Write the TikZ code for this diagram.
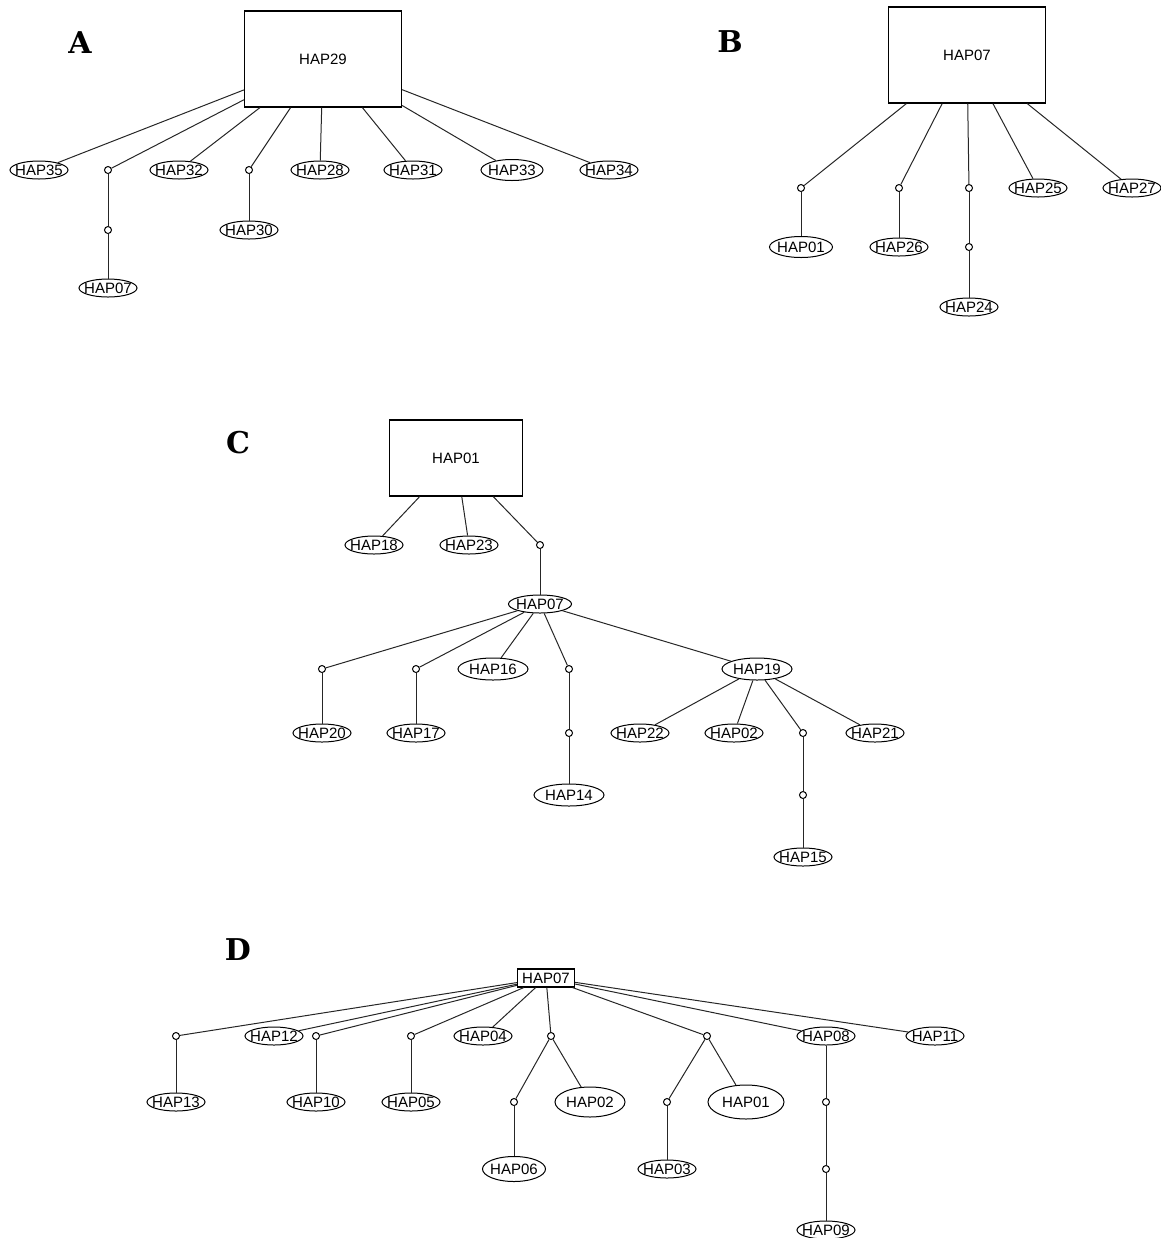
\documentclass[tikz,border=0pt]{standalone}
\usepackage{fontspec}
\setmainfont{Liberation Sans}
\newfontfamily\panelfont{DejaVu Serif}
\usetikzlibrary{shapes.geometric}

\begin{document}
\begin{tikzpicture}[x=0.5pt,y=-0.5pt]

%
% Styles
%
\tikzstyle{hub}    = [rectangle,draw,line width=0.6pt,font=\fontsize{7.5}{9}\selectfont]
\tikzstyle{hap}    = [ellipse,draw,line width=0.5pt,inner xsep=-2pt,inner ysep=0.5pt,
                      minimum width=29pt,minimum height=9pt,font=\fontsize{7.5}{9}\selectfont]
\tikzstyle{hapbig} = [hap,minimum width=35pt,minimum height=11pt]
\tikzstyle{mv}     = [circle,draw,fill=white,inner sep=0pt,minimum size=3.5pt,line width=0.5pt]
\tikzstyle{link}   = [line width=0.5pt,black!85]
\tikzstyle{panel}  = [font=\panelfont\bfseries\fontsize{15}{18}\selectfont]

\useasboundingbox (0,0) rectangle (1161,1238);

%
% A
%
\node[panel] (la) at (80,43) {A};
\node[hub,minimum width=78.5pt,minimum height=48pt] (a29) at (323,59) {HAP29};

\node[hap] (a35) at ( 39,170) {HAP35};
\node[mv]  (am1) at (108,170) {};
\node[mv]  (am2) at (108,230) {};
\node[hap] (a07) at (108,288) {HAP07};
\node[hap] (a32) at (179,170) {HAP32};
\node[mv]  (am3) at (249,170) {};
\node[hap] (a30) at (249,230) {HAP30};
\node[hap] (a28) at (320,170) {HAP28};
\node[hap] (a31) at (413,170) {HAP31};
\node[hap,minimum width=31pt,minimum height=10.5pt] (a33) at (512,170) {HAP33};
\node[hap] (a34) at (609,170) {HAP34};

\draw[link] (a29) -- (a35);
\draw[link] (a29) -- (am1);
\draw[link] (am1) -- (am2);
\draw[link] (am2) -- (a07);
\draw[link] (a29) -- (a32);
\draw[link] (a29) -- (am3);
\draw[link] (am3) -- (a30);
\draw[link] (a29) -- (a28);
\draw[link] (a29) -- (a31);
\draw[link] (a29) -- (a33);
\draw[link] (a29) -- (a34);

%
% B
%
\node[panel] (lb) at (730,42) {B};
\node[hub,minimum width=78.5pt,minimum height=48pt] (b07) at (967,55) {HAP07};

\node[mv]  (bm1) at ( 801,188) {};
\node[hap,minimum width=31.5pt,minimum height=10.5pt] (b01) at (801,247) {HAP01};
\node[mv]  (bm2) at ( 899,188) {};
\node[hap] (b26) at ( 899,247) {HAP26};
\node[mv]  (bm3) at ( 969,188) {};
\node[mv]  (bm4) at ( 969,247) {};
\node[hap] (b24) at ( 969,307) {HAP24};
\node[hap] (b25) at (1038,188) {HAP25};
\node[hap] (b27) at (1132,188) {HAP27};

\draw[link] (b07) -- (bm1);
\draw[link] (bm1) -- (b01);
\draw[link] (b07) -- (bm2);
\draw[link] (bm2) -- (b26);
\draw[link] (b07) -- (bm3);
\draw[link] (bm3) -- (bm4);
\draw[link] (bm4) -- (b24);
\draw[link] (b07) -- (b25);
\draw[link] (b07) -- (b27);

%
% C
%
\node[panel] (lc) at (238,443) {C};
\node[hub,minimum width=66.5pt,minimum height=38pt] (c01) at (456,458) {HAP01};

\node[hap] (c18) at (374,545) {HAP18};
\node[hap] (c23) at (469,545) {HAP23};
\node[mv]  (cm1) at (540,545) {};
\node[hap,minimum width=31.5pt] (c07) at (540,604) {HAP07};

\node[mv]     (cm2) at (322,669) {};
\node[mv]     (cm3) at (416,669) {};
\node[hapbig] (c16) at (493,669) {HAP16};
\node[mv]     (cm4) at (569,669) {};
\node[hapbig] (c19) at (757,669) {HAP19};

\node[hap]    (c20) at (322,733) {HAP20};
\node[hap]    (c17) at (416,733) {HAP17};
\node[mv]     (cm5) at (569,733) {};
\node[hapbig] (c14) at (569,795) {HAP14};
\node[hap]    (c22) at (640,733) {HAP22};
\node[hap]    (c02) at (734,733) {HAP02};
\node[mv]     (cm6) at (803,733) {};
\node[hap]    (c21) at (875,733) {HAP21};
\node[mv]     (cm7) at (803,795) {};
\node[hap]    (c15) at (803,857) {HAP15};

\draw[link] (c01) -- (c18);
\draw[link] (c01) -- (c23);
\draw[link] (c01) -- (cm1);
\draw[link] (cm1) -- (c07);
\draw[link] (c07) -- (cm2);
\draw[link] (cm2) -- (c20);
\draw[link] (c07) -- (cm3);
\draw[link] (cm3) -- (c17);
\draw[link] (c07) -- (c16);
\draw[link] (c07) -- (cm4);
\draw[link] (cm4) -- (cm5);
\draw[link] (cm5) -- (c14);
\draw[link] (c07) -- (c19);
\draw[link] (c19) -- (c22);
\draw[link] (c19) -- (c02);
\draw[link] (c19) -- (cm6);
\draw[link] (cm6) -- (cm7);
\draw[link] (cm7) -- (c15);
\draw[link] (c19) -- (c21);

%
% D
%
\node[panel] (ld) at (238,950) {D};
\node[hub,inner sep=1pt,minimum width=28.5pt,minimum height=9pt] (d07) at (546,978) {HAP07};

\node[mv]  (dm1) at (176,1036) {};
\node[hap] (d12) at (274,1036) {HAP12};
\node[mv]  (dm2) at (316,1036) {};
\node[mv]  (dm3) at (411,1036) {};
\node[hap] (d04) at (483,1036) {HAP04};
\node[mv]  (dm4) at (551,1036) {};
\node[mv]  (dm5) at (707,1036) {};
\node[hap] (d08) at (826,1036) {HAP08};
\node[hap] (d11) at (935,1036) {HAP11};

\node[hap] (d13) at (176,1102) {HAP13};
\node[hap] (d10) at (316,1102) {HAP10};
\node[hap] (d05) at (411,1102) {HAP05};
\node[mv]  (dm6) at (514,1102) {};
\node[hap,minimum width=35pt,minimum height=15pt] (d02) at (590,1102) {HAP02};
\node[mv]  (dm7) at (667,1102) {};
\node[hap,minimum width=38pt,minimum height=17pt] (d01) at (746,1102) {HAP01};
\node[mv]  (dm8) at (826,1102) {};

\node[hap,minimum width=31.5pt,minimum height=12.5pt] (d06) at (514,1169) {HAP06};
\node[hap] (d03) at (667,1169) {HAP03};
\node[mv]  (dm9) at (826,1169) {};
\node[hap] (d09) at (826,1230) {HAP09};

\draw[link] (d07) -- (dm1);
\draw[link] (dm1) -- (d13);
\draw[link] (d07) -- (d12);
\draw[link] (d07) -- (dm2);
\draw[link] (dm2) -- (d10);
\draw[link] (d07) -- (dm3);
\draw[link] (dm3) -- (d05);
\draw[link] (d07) -- (d04);
\draw[link] (d07) -- (dm4);
\draw[link] (dm4) -- (dm6);
\draw[link] (dm6) -- (d06);
\draw[link] (dm4) -- (d02);
\draw[link] (d07) -- (dm5);
\draw[link] (dm5) -- (dm7);
\draw[link] (dm7) -- (d03);
\draw[link] (dm5) -- (d01);
\draw[link] (d07) -- (d08);
\draw[link] (d08) -- (dm8);
\draw[link] (dm8) -- (dm9);
\draw[link] (dm9) -- (d09);
\draw[link] (d07) -- (d11);

\end{tikzpicture}
\end{document}
